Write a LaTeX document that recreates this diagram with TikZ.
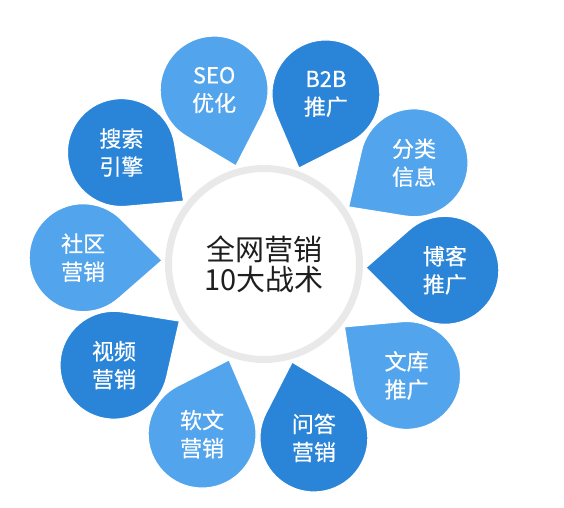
\documentclass[tikz,border=0pt]{standalone}
\usepackage{fontspec}
\setmainfont{Noto Sans CJK SC}
\newfontfamily\dropfont[FakeBold=0.5]{Noto Sans CJK SC}
\usetikzlibrary{calc}
\definecolor{lightdrop}{HTML}{52A5EC}
\definecolor{darkdrop}{HTML}{2A85D8}
\definecolor{ringgray}{HTML}{E9E9E9}
\definecolor{centertext}{HTML}{1E1E1E}
\begin{document}
\begin{tikzpicture}[x=1pt,y=1pt,
  droplabel/.style={text=white, font=\dropfont\fontsize{22}{28}\selectfont, align=center, inner sep=0pt},
  dropshape/.style={draw=white, line width=1.2pt},
  hubstyle/.style={circle, fill=white, draw=ringgray, line width=7pt, minimum size=191pt, inner sep=0pt},
  hubtext/.style={text=centertext, font=\fontsize{29}{30}\selectfont, align=center, inner sep=0pt}
]
\useasboundingbox (0,0) rectangle (564,507);
\coordinate (c) at (264,243);
\foreach \a/\col/\txt/\nm in {
  106/lightdrop/{SEO\\优化}/seo,
  70/darkdrop/{B2B\\推广}/btob,
  34/lightdrop/{分类\\信息}/fenlei,
  -2/darkdrop/{博客\\推广}/boke,
  -38/lightdrop/{文库\\推广}/wenku,
  -74/darkdrop/{问答\\营销}/wenda,
  -110/lightdrop/{软文\\营销}/ruanwen,
  -146/darkdrop/{视频\\营销}/shipin,
  178/lightdrop/{社区\\营销}/shequ,
  142/darkdrop/{搜索\\引擎}/sousuo}
{
  \pgfmathsetmacro{\tipang}{\a+180}
  \pgfmathsetmacro{\sa}{\tipang+46.9}
  \pgfmathsetmacro{\ea}{\tipang+313.1}
  \coordinate (\nm-c) at ($(c)+(\a:181)$);
  \coordinate (\nm-tip) at ($(\nm-c)+(\tipang:79)$);
  \fill[\col, dropshape] (\nm-tip) -- ($(\nm-c)+(\sa:54)$)
     arc[start angle=\sa, end angle=\ea, radius=54] -- cycle;
  \node[droplabel] (\nm) at (\nm-c) {\txt};
}
\node[hubstyle] (hub) at (c) {};
\node[hubtext] (hublabel) at (c) {全网营销\\10大战术};
\end{tikzpicture}
\end{document}
